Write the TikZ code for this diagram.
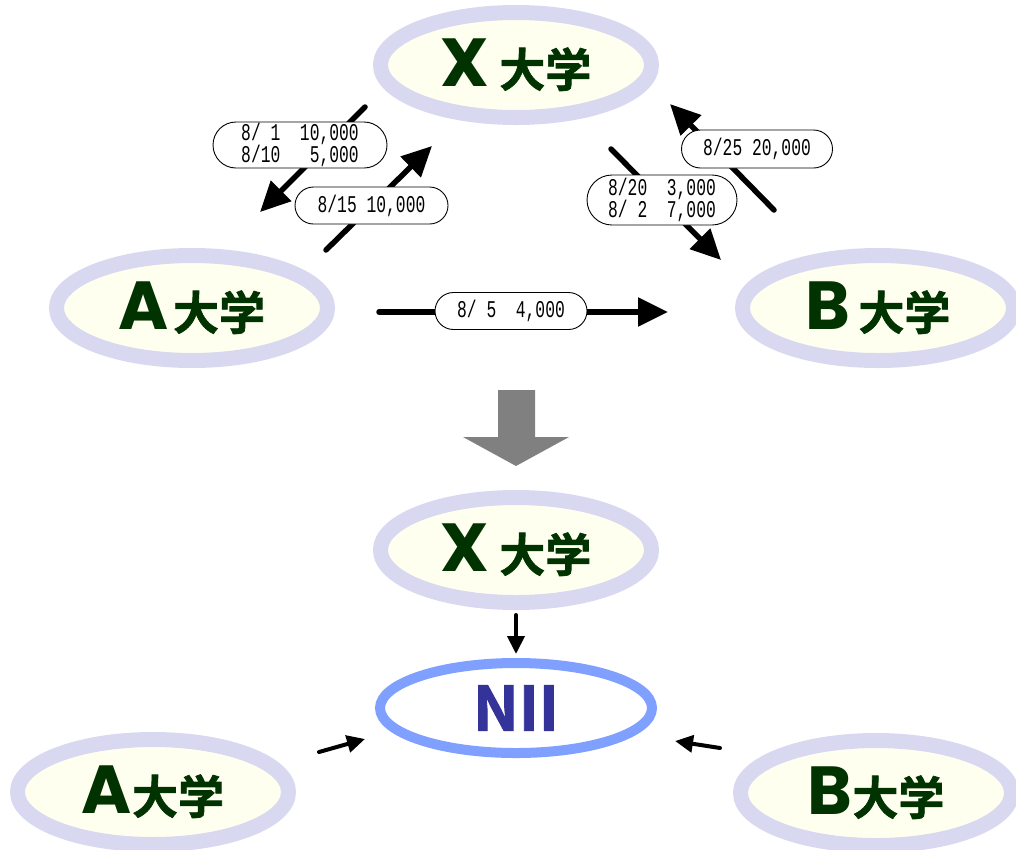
\documentclass[tikz,border=0pt]{standalone}
\usepackage{fontspec}
\usetikzlibrary{arrows.meta,shapes.geometric,shapes.misc}
\newfontfamily\cjkb{Noto Sans CJK JP Bold}[FakeBold=1.5]
\newfontfamily\latb{Poppins}[UprightFont=* Bold]
\newfontfamily\labfont{Liberation Mono}[FakeStretch=0.68]
\definecolor{uniborder}{HTML}{D8D8F0}
\definecolor{unifill}{HTML}{FFFFF0}
\definecolor{unitext}{HTML}{003300}
\definecolor{niiborder}{HTML}{80A0FF}
\definecolor{niitext}{HTML}{333399}
\definecolor{graybig}{HTML}{808080}
\newcommand\unitxt[2]{{\latb\fontsize{68}{68}\selectfont #1}#2{\cjkb\fontsize{46}{46}\selectfont 大学}}
\begin{document}
\begin{tikzpicture}[x=1pt,y=-1pt,
 uni/.style={ellipse,draw=uniborder,line width=15pt,fill=unifill,minimum width=271pt,minimum height=105pt,inner sep=0pt,text=unitext},
 nii/.style={ellipse,draw=niiborder,line width=10pt,fill=white,minimum width=272pt,minimum height=90pt,inner sep=0pt,text=niitext,font=\cjkb\fontsize{61}{61}\selectfont},
 lab/.style={rounded rectangle,draw=black,line width=0.9pt,fill=white,inner sep=0pt,font=\labfont\fontsize{24}{22}\selectfont,align=left},
 bigarrow/.style={line width=5.5pt,line cap=round,-{Triangle[length=30pt,width=28pt]}},
 smallarrow/.style={line width=4pt,line cap=round,-{Triangle[length=18pt,width=17pt]}}
]
\useasboundingbox (0,0) rectangle (1016,849);
% top universities
\node[uni] (Xt) at (516,65) {\unitxt{X}{\hspace{10pt}}};
\node[uni] (At) at (192,308) {\unitxt{A}{\hspace{4pt}}};
\node[uni] (Bt) at (878,308) {\unitxt{B}{\hspace{8pt}}};
% bottom
\node[uni] (Xb) at (516,550) {\unitxt{X}{\hspace{10pt}}};
\node[nii] (N) at (516,708) {NII};
\node[uni] (Ab) at (153,792) {\unitxt{A}{}};
\node[uni] (Bb) at (876,793) {\unitxt{B}{}};
% arrow end points
\coordinate (a1s) at (365,107); \coordinate (a1e) at (260,212);
\coordinate (a2s) at (326,250); \coordinate (a2e) at (432,146);
\coordinate (a3s) at (774,210); \coordinate (a3e) at (670,104);
\coordinate (a4s) at (611,149); \coordinate (a4e) at (721,260);
\coordinate (a5s) at (379,312); \coordinate (a5e) at (668,312);
\coordinate (s1s) at (516,615); \coordinate (s1e) at (516,654);
\coordinate (s2s) at (319,752); \coordinate (s2e) at (365,739);
\coordinate (s3s) at (720,748); \coordinate (s3e) at (675,741);
\draw[bigarrow] (a1s) -- (a1e);
\draw[bigarrow] (a2s) -- (a2e);
\draw[bigarrow] (a3s) -- (a3e);
\draw[bigarrow] (a4s) -- (a4e);
\draw[bigarrow] (a5s) -- (a5e);
\draw[smallarrow] (s1s) -- (s1e);
\draw[smallarrow] (s2s) -- (s2e);
\draw[smallarrow] (s3s) -- (s3e);
% big gray arrow
\fill[graybig] (498,390) -- (535,390) -- (535,437) -- (569,437) -- (516,466) -- (463,437) -- (498,437) -- cycle;
% labels
\node[lab,minimum width=174pt,minimum height=46pt] (L1) at (300,145) {8/\ 1\ \ 10,000\\8/10\ \ \ 5,000};
\node[lab,minimum width=153pt,minimum height=37pt] (L2) at (371.5,205.5) {8/15\ 10,000};
\node[lab,minimum width=151pt,minimum height=38pt] (L3) at (757,149) {8/25\ 20,000};
\node[lab,minimum width=150pt,minimum height=50pt] (L4) at (662,200) {8/20\ \ 3,000\\8/\ 2\ \ 7,000};
\node[lab,minimum width=152pt,minimum height=37pt] (L5) at (511,311) {8/\ 5\ \ 4,000};
\end{tikzpicture}
\end{document}
